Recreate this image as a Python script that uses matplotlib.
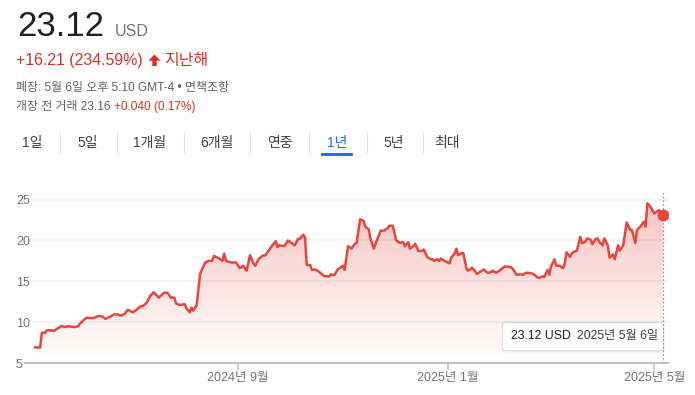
import numpy as np
import pandas as pd
import matplotlib
matplotlib.use('Agg')
from matplotlib import pyplot as plt
from matplotlib.patches import FancyBboxPatch, Polygon
import matplotlib.dates as mdates

plt.rcParams['font.family'] = ['Liberation Sans', 'Noto Sans CJK KR', 'DejaVu Sans']

# prices, day offset counted from 2024-05-06
days = [0, 3, 4, 6, 7, 9, 11, 13, 15, 16, 18, 19, 21, 23, 25, 26, 28, 30, 32, 34,
        37, 39, 41, 44, 46, 48, 50, 52, 54, 57, 59, 61, 63, 65, 67, 69, 72, 75, 77, 78,
        79, 81, 82, 84, 87, 88, 90, 91, 92, 94, 96, 97, 99, 101, 103, 104, 107, 109, 110, 111,
        114, 117, 119, 121, 123, 125, 127, 128, 130, 132, 134, 136, 138, 140, 141, 142, 145, 147, 149, 151,
        153, 154, 156, 157, 158, 160, 161, 163, 165, 168, 171, 172, 174, 176, 179, 180, 182, 184, 186, 187,
        189, 191, 192, 194, 195, 197, 198, 201, 203, 205, 206, 208, 210, 212, 214, 215, 217, 218, 220, 221,
        223, 225, 226, 228, 230, 231, 232, 234, 235, 236, 238, 239, 241, 242, 244, 245, 246, 248, 249, 251,
        252, 254, 255, 257, 259, 261, 263, 265, 266, 268, 270, 273, 275, 277, 278, 280, 282, 284, 285, 286,
        288, 290, 292, 293, 295, 296, 298, 299, 300, 302, 303, 305, 307, 308, 309, 311, 312, 314, 315, 317,
        318, 320, 321, 323, 324, 326, 327, 328, 330, 331, 333, 334, 336, 337, 339, 340, 342, 343, 344, 346,
        347, 349, 350, 352, 354, 355, 356, 358, 360, 362, 363, 365]
prices = [6.91, 6.9, 8.7, 8.7, 9.0, 9.0, 8.95, 9.2, 9.5, 9.5, 9.4, 9.5, 9.45, 9.4, 9.5, 9.77, 10.2, 10.55, 10.5, 10.5,
          10.75, 10.7, 10.4, 10.7, 10.95, 10.95, 10.8, 11.0, 11.5, 11.2, 11.5, 11.9, 12.0, 12.4, 13.2, 13.65, 13.0, 13.6, 13.6, 13.3,
          13.0, 13.0, 12.3, 12.1, 12.2, 11.7, 11.2, 11.8, 11.4, 12.1, 15.9, 16.4, 17.3, 17.5, 17.5, 18.1, 17.8, 17.5, 18.4, 17.5,
          17.3, 17.3, 16.6, 16.9, 16.3, 18.2, 17.2, 16.9, 17.7, 18.1, 18.2, 18.8, 19.4, 19.9, 19.2, 19.4, 19.3, 20.0, 19.7, 19.4,
          20.2, 20.2, 20.7, 20.35, 17.0, 17.0, 16.4, 16.45, 16.2, 15.65, 15.6, 15.85, 15.75, 16.45, 16.9, 16.4, 19.3, 19.0, 19.6, 19.7,
          22.6, 22.4, 21.7, 21.35, 20.25, 19.0, 19.6, 21.2, 21.2, 21.5, 21.8, 21.8, 20.0, 19.7, 19.8, 19.3, 19.8, 19.0, 19.3, 19.6,
          18.7, 18.7, 18.9, 18.0, 17.7, 17.7, 17.5, 17.7, 17.5, 17.8, 17.5, 17.4, 17.2, 17.9, 18.4, 19.0, 18.2, 18.45, 18.45, 16.45,
          16.3, 16.65, 16.45, 15.9, 16.2, 16.45, 16.05, 16.1, 16.3, 16.05, 16.3, 16.8, 16.8, 16.7, 16.45, 15.8, 15.85, 15.8, 16.0, 16.05,
          16.0, 15.85, 15.5, 15.4, 15.6, 15.5, 16.4, 15.8, 16.8, 17.7, 16.9, 16.9, 16.6, 17.2, 18.55, 18.0, 18.4, 18.7, 18.75, 20.45,
          19.65, 19.85, 20.25, 20.1, 19.55, 20.2, 20.25, 19.85, 19.4, 20.25, 19.4, 17.9, 18.3, 17.7, 19.4, 18.75, 19.4, 20.85, 22.2, 21.3,
          21.3, 19.7, 21.3, 21.7, 22.3, 21.7, 24.55, 24.05, 23.3, 23.6, 23.7, 23.12]

start = pd.Timestamp('2024-05-06')
dates = start + pd.to_timedelta(days, unit='D')

y_ticks = [5, 10, 15, 20, 25]
x_tick_dates = ['2024-09-01', '2025-01-01', '2025-05-01']
x_tick_labels = ['2024년 9월', '2025년 1월', '2025년 5월']
tabs = ['1일', '5일', '1개월', '6개월', '연중', '1년', '5년', '최대']
selected_tab = '1년'

W, H = 695, 395
RED = '#e8453c'
TXT_RED = '#d93025'
GRAY = '#70757a'
DARK = '#202124'

fig = plt.figure(figsize=(W / 100, H / 100), dpi=100)


def fx(x):
    return x / W


def fy(y):
    return 1 - y / H


def put(x, y, s, **kw):
    return fig.text(fx(x), fy(y), s, **kw)


# header
put(17, 36.5, '23.12', fontsize=25, color=DARK, va='baseline')
put(115, 36.5, 'USD', fontsize=11.5, color=GRAY, va='baseline')
put(16, 65.5, '+16.21 (234.59%)', fontsize=11.4, color=TXT_RED, va='baseline')
arrow = [(154.5, 54.5), (160.5, 60.7), (156.7, 60.7), (156.7, 66), (152.3, 66),
         (152.3, 60.7), (148.5, 60.7)]
fig.patches.append(Polygon([(fx(a), fy(b)) for a, b in arrow], closed=True,
                           facecolor=TXT_RED, edgecolor='none', transform=fig.transFigure))
put(164, 65.5, '지난해', fontsize=11.5, color=TXT_RED, va='baseline')
put(16, 91.5, '폐장: 5월 6일 오후 5:10 GMT-4 • 면책조항', fontsize=8.6, color='#5f6368', va='baseline')
t = put(16, 110, '개장 전 거래 23.16 ', fontsize=8.6, color='#5f6368', va='baseline')
fig.canvas.draw()
bb = t.get_window_extent()
put(bb.x1, 110, '+0.040 (0.17%)', fontsize=8.6, color=TXT_RED, va='baseline')

# period tabs
tab_x = [32, 88, 150, 217, 280, 337, 394, 447]
sep_x = [60, 117, 184, 250, 309, 367, 423]
for lab, x in zip(tabs, tab_x):
    col = '#1a73e8' if lab == selected_tab else '#3c4043'
    put(x, 143, lab, fontsize=10, color=col, ha='center', va='center')
for x in sep_x:
    fig.add_artist(plt.Line2D([fx(x), fx(x)], [fy(132), fy(153)], color='#e3e5e8', lw=0.8))
i_sel = tabs.index(selected_tab)
fig.patches.append(FancyBboxPatch((fx(tab_x[i_sel] - 16), fy(156)), fx(32), 3 / H,
                                  boxstyle='round,pad=0,rounding_size=0.002',
                                  facecolor='#1a73e8', edgecolor='none', transform=fig.transFigure))

# chart axes
ax_left, ax_right, ax_bottom = 25, 668, 363
ppu = 8.17
ymax = 27
ax = fig.add_axes([fx(ax_left), fy(ax_bottom), (ax_right - ax_left) / W, (ymax - 5) * ppu / H])
ax.patch.set_alpha(0)
x0 = start - pd.Timedelta(days=5.8)
x1 = start + pd.Timedelta(days=368)
for s in ['top', 'right', 'left']:
    ax.spines[s].set_visible(False)
ax.spines['bottom'].set_color('#bdc1c6')
ax.spines['bottom'].set_linewidth(1.4)

for v in y_ticks[1:]:
    ax.hlines(v, start - pd.Timedelta(days=1), x1, color='#f1f3f4', lw=1.2, zorder=0)

ax.set_yticks(y_ticks)
ax.set_yticklabels([str(v) for v in y_ticks])
ax.tick_params(axis='y', length=0, pad=6.5, labelsize=9, labelcolor=GRAY)
for lab in ax.get_yticklabels():
    lab.set_horizontalalignment('left')

ax.set_xticks(pd.to_datetime(x_tick_dates))
ax.set_xticklabels(x_tick_labels)
ax.tick_params(axis='x', length=5, width=1.2, color='#bdc1c6', pad=1.5, labelsize=9, labelcolor=GRAY)

# gradient fill under the line
fill = ax.fill_between(dates, prices, 5, facecolor='none', edgecolor='none')
grad = np.zeros((200, 2, 4))
grad[:, :, :3] = matplotlib.colors.to_rgb(RED)
grad[:, :, 3] = np.linspace(0.0, 0.32, 200)[:, None]
ext = [mdates.date2num(start), mdates.date2num(dates[-1]), 5, 25]
im = ax.imshow(grad, extent=ext, origin='lower', aspect='auto', zorder=1, interpolation='bilinear')
im.set_clip_path(fill.get_paths()[0], transform=ax.transData)
ax.set_xlim(x0, x1)
ax.set_ylim(5, ymax)

ax.plot(dates, prices, color=RED, lw=1.8, zorder=3, solid_joinstyle='round')
ax.vlines(dates[-1], 5, 26, color='#9aa0a6', lw=0.9, linestyles=(0, (1.5, 1.5)), zorder=2)
ax.plot(dates[-1], prices[-1], 'o', color=RED, markersize=7.5, zorder=4)

# tooltip
bx, by, bw, bh = 503, 323, 160, 27
for k, a in [(2.5, 0.04), (1.5, 0.07)]:
    fig.patches.append(FancyBboxPatch((fx(bx - k + 1), fy(by + bh + k)), (bw + 2 * k - 2) / W, (bh + 2 * k - 1) / H,
                                      boxstyle='round,pad=0,rounding_size=0.006',
                                      facecolor='black', alpha=a, edgecolor='none',
                                      transform=fig.transFigure, zorder=5))
fig.patches.append(FancyBboxPatch((fx(bx), fy(by + bh)), bw / W, bh / H,
                                  boxstyle='round,pad=0,rounding_size=0.005',
                                  facecolor='white', edgecolor='none',
                                  transform=fig.transFigure, zorder=6))
put(511, 336, '%.2f USD' % prices[-1], fontsize=8.8, color=DARK, va='center', zorder=7)
put(577, 336, '2025년 5월 6일', fontsize=8.8, color='#3c4043', va='center', zorder=7)

plt.savefig('out.png', dpi=100)
